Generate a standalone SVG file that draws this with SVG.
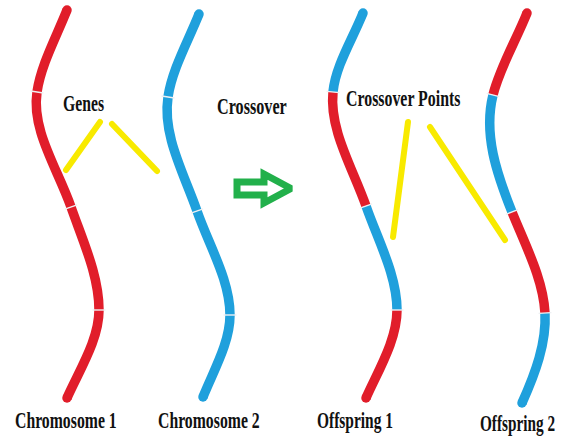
<svg xmlns="http://www.w3.org/2000/svg" xmlns:xlink="http://www.w3.org/1999/xlink" width="562" height="439" viewBox="0 0 562 439">
  <style>
    .seg { fill: none; stroke-width: 9.5; stroke-linecap: butt; }
    .red { stroke: #e11d2a; }
    .blue { stroke: #1fa0dc; }
    .capr { fill: #e11d2a; }
    .capb { fill: #1fa0dc; }
    .gap { stroke: #eef0f2; stroke-width: 1.4; fill: none; }
    .pointer { stroke: #f8ea00; stroke-width: 6; stroke-linecap: round; fill: none; }
    .lbl { font-family: "Liberation Serif", "Times New Roman", serif; font-weight: bold; fill: #111; }
  </style>
  <defs>
    <path id="gap" d="M-6.5,0 H6.5" class="gap"/>
  </defs>
  <rect width="562" height="439" fill="#ffffff"/>

  <!-- Parent chromosome 1: all red -->
  <g id="chromosome1">
    <path class="seg red" d="M67,10 C56.1,37.3 41.1,64.7 37,92"/>
    <path class="seg red" d="M37,92 C31.3,130.3 57.6,168.7 71,207"/>
    <path class="seg red" d="M71,207 C83,241.3 99,275.7 99,310"/>
    <path class="seg red" d="M99,310 C99,339.3 80.2,368.7 67,398"/>
    <circle class="capr" cx="67" cy="10" r="4.75"/>
    <circle class="capr" cx="67" cy="398" r="4.75"/>
    <use xlink:href="#gap" transform="translate(37,92) rotate(8.5)"/>
    <use xlink:href="#gap" transform="translate(71,207) rotate(-19.3)"/>
    <use xlink:href="#gap" transform="translate(99,310)"/>
  </g>

  <!-- Parent chromosome 2: all blue -->
  <g id="chromosome2">
    <path class="seg blue" d="M199,14 C187.9,41.7 172.2,69.3 168,97"/>
    <path class="seg blue" d="M168,97 C162.3,135 183.7,173 197,211"/>
    <path class="seg blue" d="M197,211 C209.1,245.7 230,280.3 230,315"/>
    <path class="seg blue" d="M230,315 C230,342.3 214,369.7 203,397"/>
    <circle class="capb" cx="199" cy="14" r="4.75"/>
    <circle class="capb" cx="203" cy="397" r="4.75"/>
    <use xlink:href="#gap" transform="translate(168,97) rotate(8.5)"/>
    <use xlink:href="#gap" transform="translate(197,211) rotate(-19.3)"/>
    <use xlink:href="#gap" transform="translate(230,315)"/>
  </g>

  <!-- Offspring 1: blue / red / blue / red -->
  <g id="offspring1">
    <path class="seg blue" d="M363,13 C352.5,39.3 335.6,65.7 333,92"/>
    <path class="seg red" d="M333,92 C329.2,130 352.7,168 366,206"/>
    <path class="seg blue" d="M366,206 C378.1,240.7 397,275.3 397,310"/>
    <path class="seg red" d="M397,310 C397,339.3 379.2,368.7 366,398"/>
    <circle class="capb" cx="363" cy="13" r="4.75"/>
    <circle class="capr" cx="366" cy="398" r="4.75"/>
    <use xlink:href="#gap" transform="translate(333,92) rotate(5.7)"/>
    <use xlink:href="#gap" transform="translate(366,206) rotate(-19.3)"/>
    <use xlink:href="#gap" transform="translate(397,310)"/>
  </g>

  <!-- Offspring 2: red / blue / red / blue -->
  <g id="offspring2">
    <path class="seg red" d="M527,13 C516.1,40.3 499.8,67.7 493,95"/>
    <path class="seg blue" d="M493,95 C483.3,134 496.4,173 512,212"/>
    <path class="seg red" d="M512,212 C525.5,245.7 543.3,279.3 545,313"/>
    <path class="seg blue" d="M545,313 C546.5,343 535.5,373 522,403"/>
    <circle class="capr" cx="527" cy="13" r="4.75"/>
    <circle class="capb" cx="522" cy="403" r="4.75"/>
    <use xlink:href="#gap" transform="translate(493,95) rotate(14)"/>
    <use xlink:href="#gap" transform="translate(512,212) rotate(-21.8)"/>
    <use xlink:href="#gap" transform="translate(545,313) rotate(-2.9)"/>
  </g>

  <!-- Crossover arrow -->
  <g id="arrow">
    <path d="M237,182 H264 V174 L291,188.5 L264,203 V195 H237 Z" fill="#ffffff" stroke="#22b04b" stroke-width="7" stroke-linejoin="miter" stroke-miterlimit="2"/>
  </g>

  <!-- Label pointers -->
  <g id="connectors">
    <line class="pointer" x1="100" y1="122" x2="66" y2="170"/>
    <line class="pointer" x1="112" y1="124" x2="157" y2="171"/>
    <line class="pointer" x1="408" y1="122" x2="393" y2="237"/>
    <line class="pointer" x1="430" y1="127" x2="505" y2="240"/>
  </g>

  <!-- Labels: condensed bold serif, narrowed with a horizontal scale -->
  <g id="label-genes"><text class="lbl" font-size="23" transform="translate(63,111) scale(0.683,1)">Genes</text></g>
  <g id="label-crossover"><text class="lbl" font-size="23" transform="translate(217,114) scale(0.703,1)">Crossover</text></g>
  <g id="label-points"><text class="lbl" font-size="23" transform="translate(346,106) scale(0.69,1)">Crossover Points</text></g>
  <g id="label-chromosome1"><text class="lbl" font-size="24" transform="translate(15,428) scale(0.657,1)">Chromosome 1</text></g>
  <g id="label-chromosome2"><text class="lbl" font-size="24" transform="translate(158,428) scale(0.657,1)">Chromosome 2</text></g>
  <g id="label-offspring1"><text class="lbl" font-size="24" transform="translate(317,428) scale(0.644,1)">Offspring 1</text></g>
  <g id="label-offspring2"><text class="lbl" font-size="24" transform="translate(480,431) scale(0.636,1)">Offspring 2</text></g>
</svg>
